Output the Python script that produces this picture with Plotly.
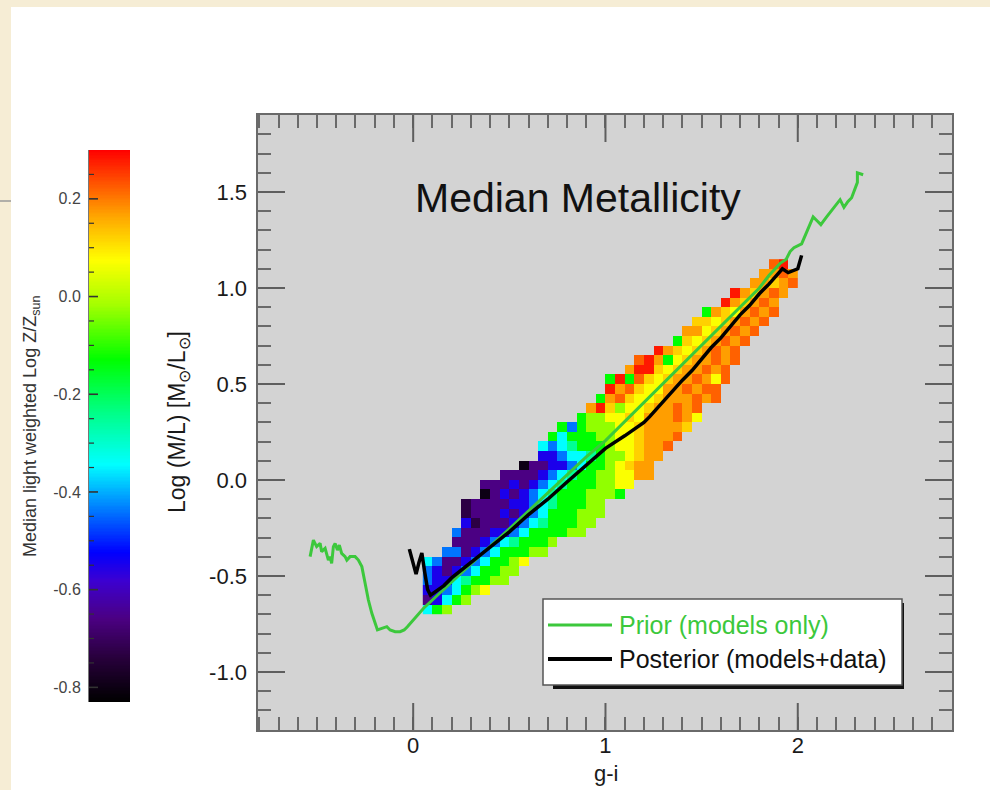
import numpy as np
import plotly.graph_objects as go

# ---------------- data ----------------
# 2D histogram bins (0.05 wide in g-i and in log M/L)
gi_edges = np.round(np.arange(0.05, 2.0001, 0.05), 2)      # 40 edges -> 39 columns
ml_edges = np.round(np.arange(-0.70, 1.1501, 0.05), 2)     # 38 edges -> 37 rows

# median metallicity, coded per cell
Z_CODE = {'k': -0.80, 'q': -0.73, 'p': -0.66, 'b': -0.55, 'l': -0.44, 'c': -0.345,
          't': -0.25, 'g': -0.13, 'h': -0.03, 'y': 0.07, 'a': 0.12, 'o': 0.17,
          'd': 0.22, 'r': 0.28}
row_first_col = [1, 1, 1, 1, 1, 1, 3, 4, 4, 5, 5, 5, 7, 7, 9, 11, 13, 13, 14, 15,
                 17, 18, 19, 20, 20, 22, 23, 25, 27, 28, 29, 30, 32, 33, 35, 36, 37]
row_codes = [
    "cgh", "pbcgh", "bblcghy", "lbbctgghh", "lbpblcgghh", "clppblcgghy",
    "llpblcggghh", "pppblctgggh", "lpppbblcgggghh", "bqpppblctggghh",
    "qpppbpblcggghhh", "qppppbblctggghh", "kpbpblctggghhhg", "pppbpblctggghhyy",
    "ppppblctgghhyyoo", "kppbblcgghyaoo", "bblcctghhyaoo", "clctggghyyaood",
    "gcggghhyyaoood", "glghhhyyaooooa", "ghhyyayooodoy", "orahyyaoodod",
    "godayyaooodod", "rodayyoododd", "grgdayaoodoyd", "orrayaoodod", "drogyaoodod",
    "roayaodod", "gayaodod", "ooyaodod", "aayaodod", "goayodod", "roaodo", "roaodo",
    "ooaod", "oodo", "dr",
]

# Prior (models only)
prior_gi = [-0.536, -0.519, -0.502, -0.484, -0.476, -0.458, -0.441, -0.432, -0.424, -0.415,
            -0.406, -0.394, -0.384, -0.372, -0.354, -0.345, -0.328, -0.302, -0.285, -0.267,
            -0.250, -0.233, -0.215, -0.198, -0.186, -0.163, -0.137, -0.120, -0.094, -0.068,
            -0.047, -0.030, -0.007, 0.019, 0.054, 0.10, 0.20, 0.30, 0.40, 0.50, 0.60, 0.70,
            0.80, 0.90, 1.00, 1.10, 1.20, 1.30, 1.40, 1.50, 1.60, 1.70, 1.80, 1.85, 1.88,
            1.91, 1.94, 1.96, 1.98, 2.00, 2.02, 2.05, 2.08, 2.10, 2.12, 2.15, 2.19, 2.22,
            2.24, 2.26, 2.28, 2.30, 2.31, 2.31, 2.34]
prior_ml = [-0.399, -0.313, -0.347, -0.330, -0.373, -0.356, -0.417, -0.399, -0.434, -0.347,
            -0.330, -0.365, -0.339, -0.382, -0.399, -0.417, -0.399, -0.399, -0.417, -0.451,
            -0.538, -0.625, -0.694, -0.747, -0.781, -0.773, -0.764, -0.781, -0.790, -0.790,
            -0.781, -0.764, -0.738, -0.703, -0.668, -0.625, -0.530, -0.435, -0.345, -0.255,
            -0.160, -0.070, 0.025, 0.120, 0.205, 0.305, 0.405, 0.500, 0.600, 0.700, 0.800,
            0.900, 1.000, 1.065, 1.100, 1.130, 1.150, 1.190, 1.210, 1.220, 1.230, 1.300,
            1.370, 1.350, 1.330, 1.370, 1.420, 1.460, 1.420, 1.450, 1.470, 1.520, 1.550,
            1.600, 1.590]

# Posterior (models + data)
post_gi = [-0.02, 0.00, 0.015, 0.03, 0.045, 0.06, 0.075, 0.09, 0.12, 0.16, 0.20, 0.30,
           0.40, 0.50, 0.60, 0.70, 0.80, 0.90, 1.00, 1.10, 1.20, 1.23, 1.30, 1.35, 1.40,
           1.45, 1.50, 1.55, 1.60, 1.65, 1.70, 1.75, 1.80, 1.85, 1.90, 1.92, 1.95, 1.98,
           2.00, 2.02]
post_ml = [-0.36, -0.43, -0.49, -0.43, -0.38, -0.48, -0.57, -0.60, -0.58, -0.55, -0.51,
           -0.43, -0.35, -0.27, -0.18, -0.10, -0.01, 0.08, 0.165, 0.23, 0.30, 0.33, 0.41,
           0.465, 0.52, 0.57, 0.63, 0.69, 0.74, 0.80, 0.86, 0.91, 0.97, 1.02, 1.08, 1.10,
           1.08, 1.09, 1.10, 1.17]

# colour bar scale and tick labels
cb_min, cb_max = -0.83, 0.30
cb_tickvals = [-0.8, -0.6, -0.4, -0.2, 0.0, 0.2]
cb_ticktext = ["-0.8", "-0.6", "-0.4", "-0.2", "0.0", "0.2"]
cb_minor_step = 0.05
x_tickvals = [0, 1, 2]
y_tickvals = [-1.0, -0.5, 0.0, 0.5, 1.0, 1.5]
y_ticktext = ["-1.0", "-0.5", "0.0", "0.5", "1.0", "1.5"]

# ---------------- build grid ----------------
ncol = len(gi_edges) - 1
z = []
for start, codes in zip(row_first_col, row_codes):
    row = [None] * ncol
    for k, ch in enumerate(codes):
        row[start - 1 + k] = Z_CODE[ch]
    z.append(row)

cb_levels = np.linspace(cb_min, cb_max, 400)

RAINBOW = [
    [0.00, "rgb(0,0,0)"], [0.08, "rgb(40,0,60)"], [0.15, "rgb(75,0,130)"],
    [0.22, "rgb(60,0,210)"], [0.27, "rgb(0,0,255)"], [0.35, "rgb(0,125,255)"],
    [0.43, "rgb(0,255,255)"], [0.52, "rgb(0,255,140)"], [0.62, "rgb(0,255,0)"],
    [0.72, "rgb(165,255,0)"], [0.80, "rgb(255,255,0)"], [0.88, "rgb(255,165,0)"],
    [1.00, "rgb(255,0,0)"],
]

W, H = 990, 790
def PX(x):
    return x / W
def PY(y):
    return 1 - y / H

FONT = "Liberation Sans, Arial, Helvetica, sans-serif"
GREEN = "#3cc83c"
AXC = "#6a6a6a"
MAJC = "#5e5e5e"
BEIGE = "#f6edd5"
XR = [-0.807, 2.802]
YR = [-1.302, 1.901]
X_DOM = [PX(258), PX(952)]
Y_DOM = [PY(730), PY(115)]
# major tick length (27 px) expressed in axis units
MAJ_X = 27 * (XR[1] - XR[0]) / ((X_DOM[1] - X_DOM[0]) * W)
MAJ_Y = 27 * (YR[1] - YR[0]) / ((Y_DOM[1] - Y_DOM[0]) * H)
CB_DOM_X = [PX(89), PX(130)]
CB_DOM_Y = [PY(702), PY(150)]
CB_W = (CB_DOM_X[1] - CB_DOM_X[0]) * W

fig = go.Figure()
fig.add_trace(go.Heatmap(x=gi_edges, y=ml_edges, z=z, colorscale=RAINBOW,
                         zmin=cb_min, zmax=cb_max, showscale=False, hoverongaps=False))
fig.add_trace(go.Scatter(x=prior_gi, y=prior_ml, mode="lines",
                         line=dict(color=GREEN, width=3), showlegend=False))
fig.add_trace(go.Scatter(x=post_gi, y=post_ml, mode="lines",
                         line=dict(color="black", width=3.5), showlegend=False))
# colour bar drawn as its own small heatmap panel
fig.add_trace(go.Heatmap(x=[0, 1], y=cb_levels, z=[[v] for v in cb_levels],
                         colorscale=RAINBOW, zmin=cb_min, zmax=cb_max, showscale=False,
                         xaxis="x2", yaxis="y2"))
# invisible carriers for the label-only overlay axes
for xa, ya in (("x3", "y"), ("x", "y3")):
    fig.add_trace(go.Scatter(x=[None], y=[None], xaxis=xa, yaxis=ya, showlegend=False,
                             hoverinfo="skip"))

label_font = dict(size=22, color="#1a1a1a", family=FONT)

fig.update_layout(
    width=W, height=H, autosize=False,
    margin=dict(l=0, r=0, t=0, b=0),
    paper_bgcolor="white", plot_bgcolor="#d3d3d3",
    font=dict(family=FONT),
    # minor ticks + frame
    xaxis=dict(domain=X_DOM, range=XR, anchor="y",
               tickmode="linear", tick0=0, dtick=0.1, ticks="inside", ticklen=13,
               tickwidth=1.6, tickcolor=AXC, mirror="ticks", showticklabels=False,
               showline=True, linecolor=AXC, linewidth=2, showgrid=False, zeroline=False),
    yaxis=dict(domain=Y_DOM, range=YR, anchor="x",
               tickmode="linear", tick0=0, dtick=0.1, ticks="inside", ticklen=13,
               tickwidth=1.6, tickcolor=AXC, mirror="ticks", showticklabels=False,
               showline=True, linecolor=AXC, linewidth=2, showgrid=False, zeroline=False),
    # tick labels
    xaxis3=dict(overlaying="x", anchor="y", side="bottom", range=XR,
                tickmode="array", tickvals=x_tickvals, ticktext=[str(v) for v in x_tickvals],
                ticks="", showline=False, showgrid=False, zeroline=False,
                tickfont=label_font, ticklabelstandoff=0),
    yaxis3=dict(overlaying="y", anchor="x", side="left", range=YR,
                tickmode="array", tickvals=y_tickvals, ticktext=y_ticktext,
                ticks="", showline=False, showgrid=False, zeroline=False,
                tickfont=label_font, ticklabelstandoff=10),
    # colour bar axes
    xaxis2=dict(domain=CB_DOM_X, range=[0, 1], anchor="y2", visible=False),
    yaxis2=dict(domain=CB_DOM_Y, range=[cb_min, cb_max], anchor="x2",
                side="left", showgrid=False, zeroline=False, showline=True,
                linecolor="#777777", linewidth=1, ticks="",
                tickmode="array", tickvals=cb_tickvals, ticktext=cb_ticktext,
                ticklabelstandoff=4,
                tickfont=dict(size=16, color="#444444", family=FONT)),
)

shapes = [
    # slide background strips
    dict(type="rect", xref="paper", yref="paper", x0=0, x1=1, y0=PY(7), y1=1,
         fillcolor=BEIGE, line=dict(width=0), layer="below"),
    dict(type="rect", xref="paper", yref="paper", x0=0, x1=PX(11), y0=0, y1=1,
         fillcolor=BEIGE, line=dict(width=0), layer="below"),
    dict(type="line", xref="paper", yref="paper", x0=0, x1=PX(11), y0=PY(201), y1=PY(201),
         line=dict(color="#9a9a9a", width=1.5)),
]

# major ticks (long, inside, on all four sides)
for v in x_tickvals:
    shapes.append(dict(type="line", xref="x", yref="y", x0=v, x1=v,
                       y0=YR[0], y1=YR[0] + MAJ_Y, line=dict(color=MAJC, width=2)))
    shapes.append(dict(type="line", xref="x", yref="y", x0=v, x1=v,
                       y0=YR[1], y1=YR[1] - MAJ_Y, line=dict(color=MAJC, width=2)))
for v in y_tickvals:
    shapes.append(dict(type="line", xref="x", yref="y", y0=v, y1=v,
                       x0=XR[0], x1=XR[0] + MAJ_X, line=dict(color=MAJC, width=2)))
    shapes.append(dict(type="line", xref="x", yref="y", y0=v, y1=v,
                       x0=XR[1], x1=XR[1] - MAJ_X, line=dict(color=MAJC, width=2)))

# colour-bar ticks (inside, left edge)
cb_ticks = np.round(np.arange(-0.80, cb_max, cb_minor_step), 2)
for v in cb_ticks:
    major = any(abs(v - t) < 1e-6 for t in cb_tickvals)
    shapes.append(dict(type="line", xref="x2", yref="y2", y0=v, y1=v,
                       x0=0, x1=(9 if major else 5) / CB_W,
                       line=dict(color="#333333", width=1.6 if major else 1.2)))

# legend box
shapes += [
    dict(type="rect", xref="paper", yref="paper", x0=PX(553), x1=PX(904), y0=PY(689), y1=PY(603),
         fillcolor="#111111", line=dict(width=0)),
    dict(type="rect", xref="paper", yref="paper", x0=PX(543), x1=PX(902), y0=PY(685), y1=PY(599),
         fillcolor="white", line=dict(color="#555555", width=1.5)),
    dict(type="line", xref="paper", yref="paper", x0=PX(548), x1=PX(612), y0=PY(625), y1=PY(625),
         line=dict(color=GREEN, width=3)),
    dict(type="line", xref="paper", yref="paper", x0=PX(548), x1=PX(612), y0=PY(659), y1=PY(659),
         line=dict(color="black", width=4)),
]

def note(text, x, y, size, color, angle=0, xanchor="center"):
    return dict(text=text, x=PX(x), y=PY(y), xref="paper", yref="paper",
                xanchor=xanchor, yanchor="middle", showarrow=False, textangle=angle,
                font=dict(size=size, color=color, family=FONT))

annotations = [
    note("Median Metallicity", 578, 198, 41, "#111111"),
    note("Log (M/L) [M<sub>⊙</sub>/L<sub>⊙</sub>]", 179, 422, 23, "#1a1a1a", angle=-90),
    note("g-i", 606, 773, 22, "#1a1a1a"),
    note("Median light weighted Log Z/Z<sub>sun</sub>", 31, 427, 18, "#333333", angle=-90),
    note("Prior (models only)", 617, 625, 25, GREEN, xanchor="left"),
    note("Posterior (models+data)", 617, 659, 25, "#111111", xanchor="left"),
]

fig.update_layout(shapes=shapes, annotations=annotations)
fig.write_html("out.html", config={"displayModeBar": False})
